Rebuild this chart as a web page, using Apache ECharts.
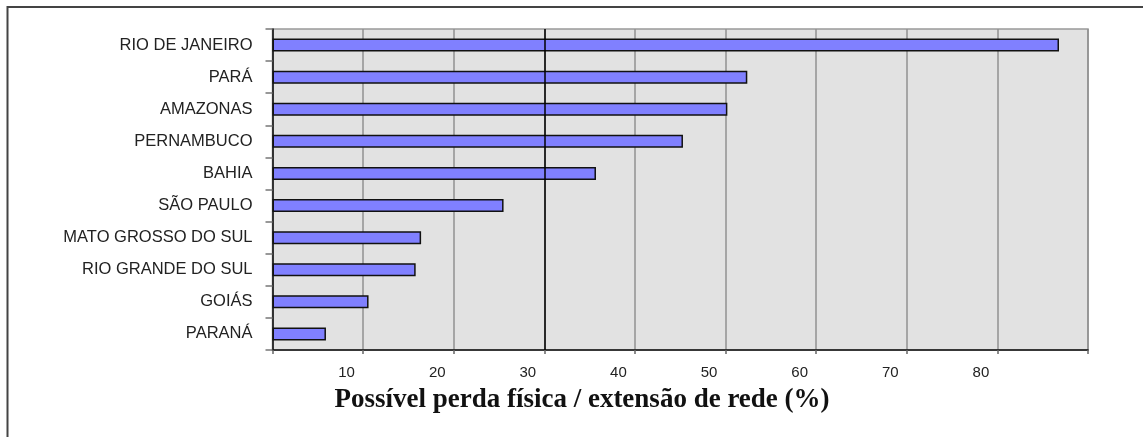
<!DOCTYPE html>
<html>
<head>
<meta charset="utf-8">
<script src="https://cdn.jsdelivr.net/npm/echarts@6/dist/echarts.min.js"></script>
<style>
html,body{margin:0;padding:0;background:#fff;}
#chart{width:1143px;height:437px;}
</style>
</head>
<body>
<div id="chart"></div>
<script>
const categories = ["RIO DE JANEIRO","PARÁ","AMAZONAS","PERNAMBUCO","BAHIA","SÃO PAULO","MATO GROSSO DO SUL","RIO GRANDE DO SUL","GOIÁS","PARANÁ"];
const values = [86.8, 52.4, 50.2, 45.3, 35.7, 25.5, 16.4, 15.8, 10.6, 5.9];
const xTickValues = [10, 20, 30, 40, 50, 60, 70, 80];
const axisTitle = "Possível perda física / extensão de rede (%)";

const chart = echarts.init(document.getElementById('chart'), null, {renderer: 'canvas'});
chart.setOption({
  animation: false,
  backgroundColor: '#ffffff',
  title: {
    text: axisTitle,
    left: 577,
    textAlign: 'center',
    top: 382,
    textStyle: {fontFamily: '"Liberation Serif", "Times New Roman", serif', fontWeight: 'bold', fontSize: 27, color: '#111'}
  },
  graphic: [{
    type: 'rect', silent: true, z: 100,
    shape: {x: 7.5, y: 7, width: 1300, height: 600},
    style: {fill: 'none', stroke: '#444', lineWidth: 2}
  }],
  grid: {
    left: 272.5, right: 55, top: 29, bottom: 87,
    show: true, backgroundColor: '#e2e2e2', borderColor: '#999', borderWidth: 1.5,
    containLabel: false
  },
  xAxis: {
    type: 'value', min: 0, max: 90, interval: 10,
    axisLine: {show: true, onZero: false, lineStyle: {color: '#111', width: 1.5}},
    axisTick: {show: true, length: 4, lineStyle: {color: '#666', width: 1.5}},
    splitLine: {show: true, lineStyle: {color: '#909090', width: 1.5}},
    axisLabel: {
      margin: 15, fontSize: 15, color: '#222',
      fontFamily: '"Liberation Sans", Arial, sans-serif',
      padding: [0, 33, 0, 0],
      formatter: function (v) { return xTickValues.indexOf(v) >= 0 ? String(v) : ''; }
    }
  },
  yAxis: {
    type: 'category', data: categories, inverse: true,
    axisLine: {show: true, lineStyle: {color: '#111', width: 1.5}},
    axisTick: {show: true, length: 7, lineStyle: {color: '#777', width: 1.5}},
    axisLabel: {margin: 20, fontSize: 16.5, color: '#222', fontFamily: '"Liberation Sans", Arial, sans-serif'}
  },
  series: [{
    type: 'bar', data: values, barWidth: 13,
    itemStyle: {color: '#8080ff', borderColor: '#111', borderWidth: 1.5},
    markLine: {
      silent: true, symbol: 'none', label: {show: false},
      lineStyle: {color: '#000', type: 'solid', width: 1.5},
      data: [{xAxis: 30}]
    },
    z: 3
  }]
});
</script>
</body>
</html>
